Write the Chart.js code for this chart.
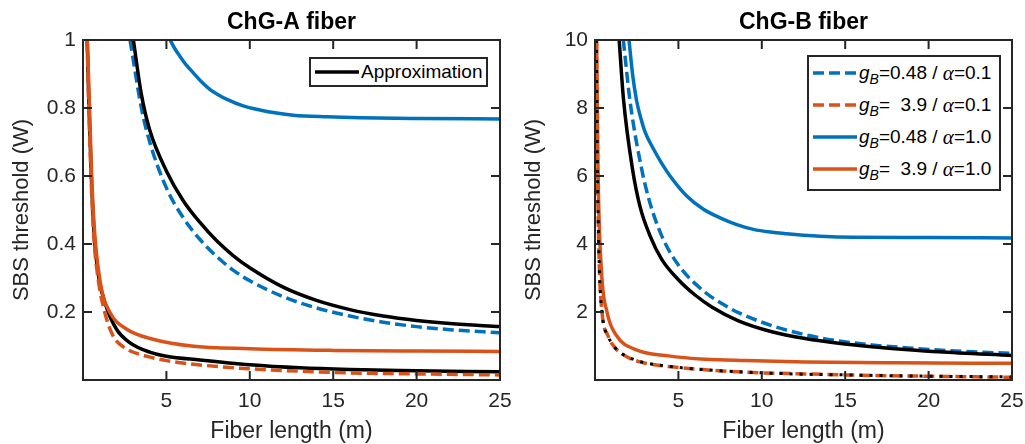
<!DOCTYPE html>
<html lang="en">
<head>
<meta charset="UTF-8" />
<title>SBS threshold vs fiber length</title>
<script src="https://cdn.jsdelivr.net/npm/chart.js"></script>
<style>
  body { margin: 0; background: #fff; font-family: 'Liberation Sans', Arial, sans-serif; }
  .wrap { position: relative; width: 1025px; height: 444px; overflow: hidden; }
  .panel { position: absolute; top: 0; width: 512px; height: 444px; }
  .legend {
    position: absolute; background: #fff; border: 2px solid #262626;
    box-sizing: border-box; color: #000; font-size: 19px;
  }
  .row { position: absolute; left: 4px; height: 30px; display: flex; align-items: center; white-space: pre; }
  .row svg { margin-right: 2px; }
  .sub { font-size: 14px; position: relative; top: 6px; font-style: italic; }
  .al { font-family: 'Liberation Serif', 'DejaVu Serif', serif; font-style: italic; font-size: 21px; }
</style>
</head>
<body>
<div class="wrap">
  <div class="panel" style="left:0"><canvas id="chartA" width="512" height="444"></canvas></div>
  <div class="panel" style="left:512px"><canvas id="chartB" width="512" height="444"></canvas></div>

  <div class="legend" style="left:309px; top:57px; width:179px; height:30px;">
    <div class="row" style="top:-2px"><svg width="44" height="6"><line x1="0" y1="3" x2="44" y2="3" stroke="#000" stroke-width="3.5"/></svg>Approximation</div>
  </div>

  <div class="legend" style="left:807px; top:55px; width:194px; height:136px;">
    <div class="row" style="top:1px"><svg width="44" height="6"><line x1="0" y1="3" x2="44" y2="3" stroke="#0072BD" stroke-width="3.5" stroke-dasharray="11 5"/></svg><i>g</i><span class="sub">B</span>=0.48 / <span class="al">α</span>=0.1</div>
    <div class="row" style="top:33px"><svg width="44" height="6"><line x1="0" y1="3" x2="44" y2="3" stroke="#D95319" stroke-width="3.5" stroke-dasharray="11 5"/></svg><i>g</i><span class="sub">B</span>=  3.9 / <span class="al">α</span>=0.1</div>
    <div class="row" style="top:65px"><svg width="44" height="6"><line x1="0" y1="3" x2="44" y2="3" stroke="#0072BD" stroke-width="3.5"/></svg><i>g</i><span class="sub">B</span>=0.48 / <span class="al">α</span>=1.0</div>
    <div class="row" style="top:97px"><svg width="44" height="6"><line x1="0" y1="3" x2="44" y2="3" stroke="#D95319" stroke-width="3.5"/></svg><i>g</i><span class="sub">B</span>=  3.9 / <span class="al">α</span>=1.0</div>
  </div>
</div>

<script>
  // ChG-A fiber (threshold in W, length in m)
  const aBlackHiX   = [3.02, 3.5, 4, 5, 6, 7, 8, 9, 10, 12, 14, 16, 18, 20, 22, 25];
  const aBlackHiY   = [1.0, 0.84, 0.735, 0.615, 0.528, 0.464, 0.41, 0.366, 0.33, 0.273, 0.234, 0.207, 0.188, 0.175, 0.166, 0.157];
  const aBlueDashX  = [2.82, 3.5, 4, 5, 6, 7, 8, 9, 10, 12, 14, 16, 18, 20, 22, 25];
  const aBlueDashY  = [1.0, 0.8, 0.7, 0.565, 0.478, 0.414, 0.364, 0.323, 0.292, 0.245, 0.212, 0.188, 0.17, 0.157, 0.148, 0.139];
  const aBlueSolX   = [5.22, 5.5, 5.8, 6.2, 6.6, 7.1, 7.6, 8.1, 8.6, 9.6, 10.6, 11.6, 12.6, 14.6, 16.6, 20, 25];
  const aBlueSolY   = [1.0, 0.975, 0.953, 0.926, 0.904, 0.877, 0.855, 0.839, 0.826, 0.806, 0.794, 0.785, 0.779, 0.774, 0.771, 0.769, 0.768];
  const aOrSolX     = [0.26, 0.38, 0.52, 0.72, 1.1, 1.6, 2.6, 4.2, 6.5, 10, 15, 20, 25];
  const aOrSolY     = [1.0, 0.82, 0.6, 0.42, 0.27, 0.2, 0.15, 0.12, 0.1, 0.092, 0.087, 0.085, 0.084];
  const aBlackLoX   = [0.25, 0.36, 0.5, 0.68, 0.95, 1.4, 2, 2.8, 4, 5, 7, 10, 13, 16, 19, 25];
  const aBlackLoY   = [1.0, 0.8, 0.6, 0.42, 0.3, 0.215, 0.15, 0.11, 0.082, 0.07, 0.059, 0.045, 0.036, 0.031, 0.028, 0.024];
  const aOrDashX    = [0.25, 0.35, 0.48, 0.65, 0.9, 1.3, 1.8, 2.5, 3.8, 5, 6.5, 9, 12, 16, 20, 25];
  const aOrDashY    = [1.0, 0.8, 0.6, 0.42, 0.3, 0.2, 0.13, 0.095, 0.07, 0.057, 0.047, 0.036, 0.028, 0.021, 0.018, 0.015];

  // ChG-B fiber
  const bBlackHiX   = [1.45, 1.7, 2.25, 2.7, 3.3, 4, 5, 6, 7, 8.6, 10.6, 12.6, 14.6, 16.6, 18.6, 20.6, 25];
  const bBlackHiY   = [10, 8.3, 6.2, 5.1, 4.24, 3.55, 2.95, 2.5, 2.15, 1.74, 1.42, 1.22, 1.08, 0.98, 0.9, 0.83, 0.72];
  const bBlueDashX  = [1.7, 2.1, 2.8, 3.3, 4, 5, 6.6, 7.6, 8.6, 10.6, 12.6, 14.6, 16.6, 18.6, 20.6, 25];
  const bBlueDashY  = [10, 8.2, 6.2, 5.2, 4.24, 3.38, 2.58, 2.25, 1.98, 1.6, 1.33, 1.15, 1.03, 0.95, 0.88, 0.78];
  const bBlueSolX   = [2.04, 2.25, 2.5, 2.75, 3, 3.5, 4, 4.5, 5.5, 6.5, 7.5, 8.5, 9.5, 10.5, 11.5, 12.5, 13.5, 15.5, 20, 25];
  const bBlueSolY   = [10, 9.0, 8.2, 7.7, 7.3, 6.8, 6.37, 6.0, 5.41, 5.02, 4.77, 4.57, 4.43, 4.35, 4.3, 4.26, 4.23, 4.2, 4.19, 4.18];
  const bOrSolX     = [0.1, 0.18, 0.38, 0.72, 1.3, 2.4, 4.4, 6.6, 9, 12.6, 18, 25];
  const bOrSolY     = [10, 6.2, 3.26, 2.0, 1.3, 0.9, 0.71, 0.61, 0.57, 0.53, 0.505, 0.49];
  const bOrDashX    = [0.08, 0.15, 0.25, 0.42, 0.78, 1.2, 1.8, 2.8, 4, 5, 6.6, 10, 12.6, 15, 18.6, 25];
  const bOrDashY    = [10, 6.2, 3.5, 2.0, 1.3, 0.95, 0.71, 0.52, 0.42, 0.37, 0.3, 0.21, 0.18, 0.15, 0.12, 0.08];
  const bBlackLoX   = [0.08, 0.15, 0.25, 0.42, 0.8, 1.2, 1.8, 2.8, 4, 5, 6.6, 10, 12.6, 15, 18.6, 25];
  const bBlackLoY   = [10, 6.1, 3.45, 2.0, 1.28, 0.95, 0.72, 0.53, 0.43, 0.37, 0.3, 0.21, 0.17, 0.15, 0.12, 0.09];

  const xTicks = [5, 10, 15, 20, 25];

  const BLUE = '#0072BD', ORANGE = '#D95319', AXIS = '#262626';
  const FONT = "'Liberation Sans', Arial, Helvetica, sans-serif";
  Chart.defaults.font.family = FONT;
  Chart.defaults.color = AXIS;

  function pts(xs, ys) { return xs.map((x, i) => ({ x: x, y: ys[i] })); }

  function line(xs, ys, color, dash) {
    return {
      data: pts(xs, ys),
      borderColor: color,
      borderWidth: dash && dash[0] < 4 ? 3 : 3.5,
      borderDash: dash || [],
      borderCapStyle: 'butt',
      pointRadius: 0,
      fill: false,
      cubicInterpolationMode: 'monotone'
    };
  }

  // MATLAB-like box with inward ticks on all four sides
  const boxPlugin = {
    id: 'box',
    afterDatasetsDraw(chart) {
      const { ctx, chartArea: a, scales: { x, y } } = chart;
      ctx.save();
      ctx.strokeStyle = AXIS;
      ctx.lineWidth = 2;
      ctx.beginPath();
      x.ticks.forEach(t => {
        const p = x.getPixelForValue(t.value);
        if (p < a.left + 2 || p > a.right - 2) return;
        ctx.moveTo(p, a.bottom); ctx.lineTo(p, a.bottom - 9);
        ctx.moveTo(p, a.top); ctx.lineTo(p, a.top + 9);
      });
      y.ticks.forEach(t => {
        const p = y.getPixelForValue(t.value);
        if (p < a.top + 2 || p > a.bottom - 2) return;
        ctx.moveTo(a.left, p); ctx.lineTo(a.left + 9, p);
        ctx.moveTo(a.right, p); ctx.lineTo(a.right - 9, p);
      });
      ctx.stroke();
      ctx.strokeRect(a.left, a.top, a.right - a.left, a.bottom - a.top);
      ctx.restore();
    }
  };

  function makeChart(id, title, yMax, yStep, datasets) {
    return new Chart(document.getElementById(id), {
      type: 'line',
      data: { datasets: datasets },
      options: {
        responsive: false,
        animation: false,
        layout: { padding: { left: 0, right: 12, top: 0, bottom: 0 } },
        plugins: { legend: { display: false }, tooltip: { enabled: false } },
        scales: {
          x: {
            type: 'linear', position: 'bottom', min: 0, max: 25,
            afterBuildTicks: s => { s.ticks = [0].concat(xTicks).map(v => ({ value: v })); },
            grid: { display: false, drawTicks: false },
            border: { display: false },
            ticks: {
              padding: 9, maxRotation: 0, autoSkip: false,
              font: { size: 21 }, color: AXIS,
              callback: v => v === 0 ? '' : String(v)
            },
            title: {
              display: true, text: 'Fiber length (m)', color: AXIS,
              font: { size: 23, lineHeight: 1 }, padding: { top: 0, bottom: 1 }
            },
            afterFit: s => { s.height = 64; s.paddingLeft = 0; s.paddingRight = 0; }
          },
          x2: {
            type: 'linear', position: 'top', min: 0, max: 25,
            grid: { display: false, drawTicks: false },
            border: { display: false },
            ticks: { display: false },
            title: {
              display: true, text: title, color: '#000',
              font: { size: 23, weight: 'bold', lineHeight: 1.2 }, padding: { top: 9, bottom: 0 }
            },
            afterFit: s => { s.height = 40; s.paddingLeft = 0; s.paddingRight = 0; }
          },
          y: {
            type: 'linear', position: 'left', min: 0, max: yMax,
            grid: { display: false, drawTicks: false },
            border: { display: false },
            ticks: {
              stepSize: yStep, padding: 7, font: { size: 21 }, color: AXIS,
              callback: v => v === 0 ? '' : String(Math.round(v * 10) / 10)
            },
            title: {
              display: true, text: 'SBS threshold (W)', color: AXIS,
              font: { size: 22, lineHeight: 1.2 }, padding: { top: 9, bottom: 0 }
            },
            afterFit: s => { s.width = 83; s.paddingTop = 0; s.paddingBottom = 0; }
          }
        }
      },
      plugins: [boxPlugin]
    });
  }

  // first dataset is drawn on top
  makeChart('chartA', 'ChG-A fiber', 1, 0.2, [
    line(aBlackHiX, aBlackHiY, '#000'),
    line(aOrSolX, aOrSolY, ORANGE),
    line(aOrDashX, aOrDashY, ORANGE, [11, 5]),
    line(aBlackLoX, aBlackLoY, '#000'),
    line(aBlueDashX, aBlueDashY, BLUE, [11, 5]),
    line(aBlueSolX, aBlueSolY, BLUE)
  ]);

  makeChart('chartB', 'ChG-B fiber', 10, 2, [
    line(bBlackLoX, bBlackLoY, '#000', [3, 7]),
    line(bBlackHiX, bBlackHiY, '#000'),
    line(bBlueDashX, bBlueDashY, BLUE, [11, 5]),
    line(bOrDashX, bOrDashY, ORANGE, [11, 5]),
    line(bBlueSolX, bBlueSolY, BLUE),
    line(bOrSolX, bOrSolY, ORANGE)
  ]);
</script>
</body>
</html>
